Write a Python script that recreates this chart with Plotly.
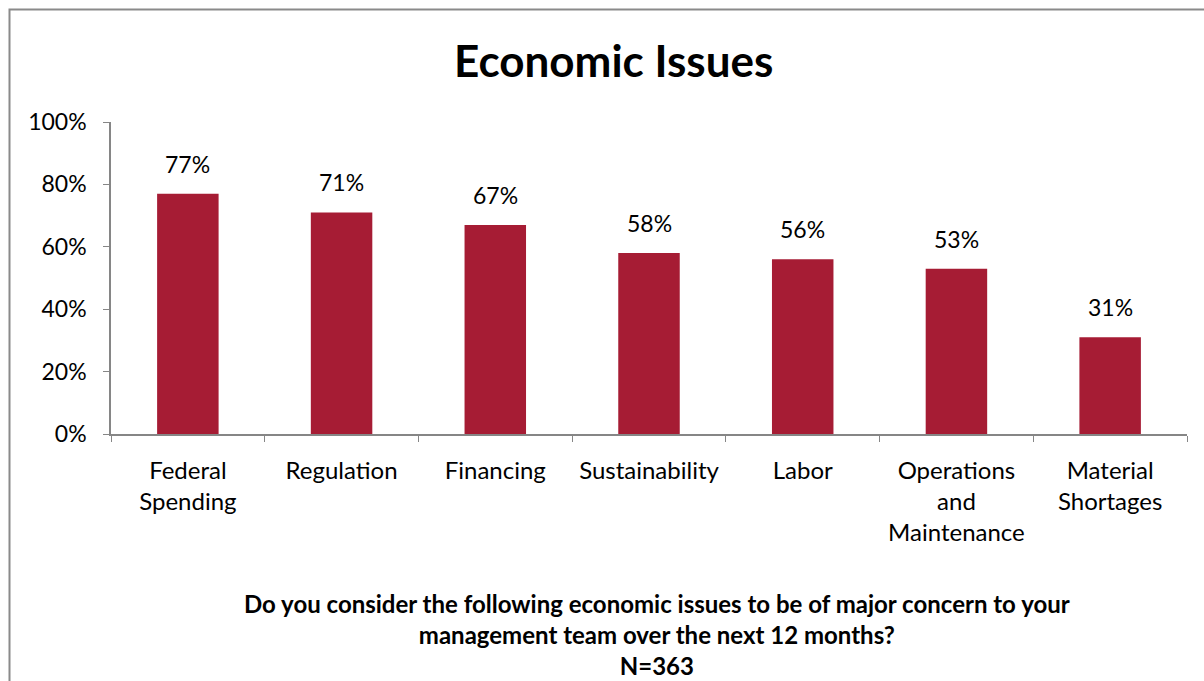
import plotly.graph_objects as go

categories = ["Federal<br>Spending", "Regulation", "Financing", "Sustainability", "Labor",
              "Operations<br>and<br>Maintenance", "Material<br>Shortages"]
values = [77, 71, 67, 58, 56, 53, 31]
value_labels = ["77%", "71%", "67%", "58%", "56%", "53%", "31%"]
y_ticks = [0, 20, 40, 60, 80, 100]
y_tick_labels = ["0%", "20%", "40%", "60%", "80%", "100%"]

BAR = "#A61C34"
AXIS = "#868686"
FONT = "Lato"

fig = go.Figure()
fig.add_trace(go.Bar(x=categories, y=values, marker=dict(color=BAR, line=dict(width=0)),
                     width=0.4, hoverinfo="skip"))

for c, v, t in zip(categories, values, value_labels):
    fig.add_annotation(x=c, y=v, text=t, showarrow=False, yanchor="bottom", yshift=14,
                       font=dict(family=FONT, size=23, color="black"))

L, R, T, B = 111, 1187, 122, 434
W, H = 1204, 681
pw, ph = R - L, B - T

def px(x):
    return (x - L) / pw

def py(y):
    return (B - y) / ph

fig.add_shape(type="rect", xref="paper", yref="paper",
              x0=px(9.5), x1=px(1215), y0=py(9.5), y1=py(700),
              line=dict(color="#8A8A8A", width=2), fillcolor="rgba(0,0,0,0)", layer="below")

fig.add_annotation(xref="paper", yref="paper", x=px(613), y=py(60), text="<b>Economic Issues</b>",
                   showarrow=False, xanchor="center", yanchor="middle",
                   font=dict(family=FONT, size=44, color="black"))

fig.add_annotation(xref="paper", yref="paper", x=px(657), y=py(634),
                   text="<b>Do you consider the following economic issues to be of major concern to your<br>"
                        "management team over the next 12 months?<br>N=363</b>",
                   showarrow=False, xanchor="center", yanchor="middle", align="center",
                   font=dict(family=FONT, size=24, color="black"))

fig.update_layout(
    width=W, height=H, autosize=False,
    margin=dict(l=L, r=W - R, t=T, b=H - B, pad=0),
    paper_bgcolor="white", plot_bgcolor="white",
    showlegend=False, bargap=0.6,
    font=dict(family=FONT, size=23, color="black"),
    xaxis=dict(type="category", showline=True, linecolor=AXIS, linewidth=1.5,
               ticks="outside", tickson="boundaries", ticklen=6, tickcolor=AXIS,
               ticklabelstandoff=14,
               showgrid=False, tickfont=dict(family=FONT, size=24, color="black"),
               fixedrange=True),
    yaxis=dict(range=[0, 100], tickvals=y_ticks, ticktext=y_tick_labels, showline=True,
               linecolor=AXIS, linewidth=1.5, ticks="outside", ticklen=6, tickcolor=AXIS,
               ticklabelstandoff=12,
               showgrid=False, zeroline=False, tickfont=dict(family=FONT, size=23, color="black"),
               fixedrange=True),
)

fig.write_html("out.html")
